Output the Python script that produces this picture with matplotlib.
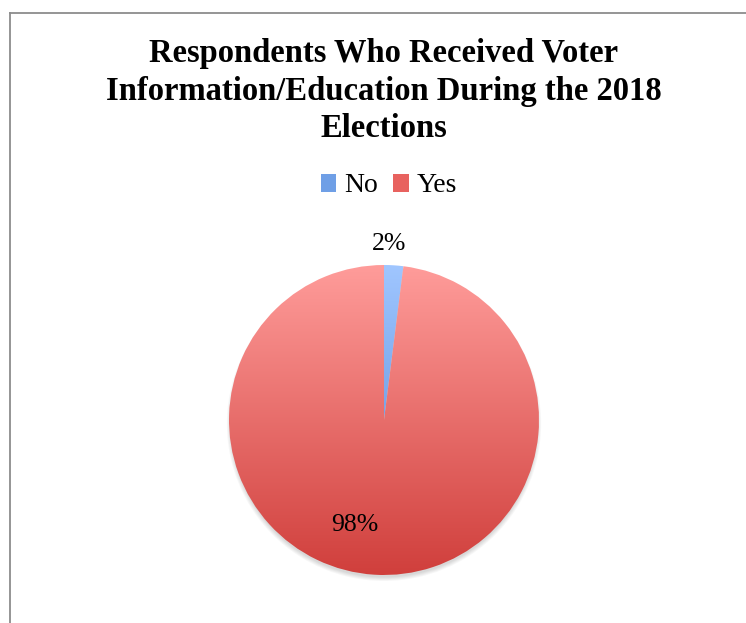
import numpy as np
import matplotlib
matplotlib.use('Agg')
import matplotlib.pyplot as plt
from matplotlib.colors import LinearSegmentedColormap
from matplotlib.patches import Patch, Circle
from matplotlib.lines import Line2D

labels = ['No', 'Yes']
values = [2, 98]
# light (top) -> dark (bottom) fill for each slice
top_colors = ['#a0c6ff', '#ff9c9a']
bottom_colors = ['#4a80d2', '#d03f3c']
mid_colors = ['#6f9fe6', '#e8625f']

title = 'Respondents Who Received Voter\nInformation/Education During the 2018\nElections'

plt.rcParams['font.family'] = ['Liberation Serif', 'DejaVu Serif']

W, H = 746, 623
fig = plt.figure(figsize=(W / 100, H / 100), dpi=100)

# pie placed with centre at (384, 420) px, radius 155 px
cx, cy, r_px = 384, 420, 155
box = 400
ax = fig.add_axes([(cx - box / 2) / W, (H - cy - box / 2) / H, box / W, box / H])
lim = box / 2 / r_px
ax.set_aspect('equal')
ax.axis('off')

# soft drop shadow under the pie
for k in range(5):
    ax.add_patch(Circle((0.0, -0.025), 0.99 + 0.006 * k, facecolor='black',
                        edgecolor='none', alpha=0.03, zorder=0))

wedges, _ = ax.pie(values, startangle=90, counterclock=False, radius=1.0,
                   wedgeprops=dict(facecolor='none', edgecolor='none'))

grad = np.linspace(0, 1, 256).reshape(-1, 1)
for w, c0, c1 in zip(wedges, top_colors, bottom_colors):
    cmap = LinearSegmentedColormap.from_list('g', [c0, c1])
    im = ax.imshow(grad, cmap=cmap, extent=(-1, 1, -1, 1), origin='upper',
                   aspect='auto', zorder=1)
    im.set_clip_path(w)

ax.set_xlim(-lim, lim)
ax.set_ylim(-lim, lim)

# percentage labels
ax.text(0.03, 1.135, '%d%%' % values[0], ha='center', va='center', fontsize=18.5)
ax.text(-0.19, -0.68, '%d%%' % values[1], ha='center', va='center', fontsize=18.5)

fig.text(cx / W, 1 - 38 / H, title, ha='center', va='top', fontsize=23.5,
         fontweight='bold', linespacing=1.28)

handles = [Patch(facecolor=c, edgecolor='none') for c in mid_colors]
fig.legend(handles, labels, loc='center', bbox_to_anchor=(389 / W, 1 - 186 / H),
           ncol=2, frameon=False, fontsize=20, handlelength=0.55,
           handleheight=0.6, handletextpad=0.3, columnspacing=0.55)

# chart frame (top and left edges visible)
fx, fy = 9.5 / W, 1 - 13 / H
fig.add_artist(Line2D([fx, 1], [fy, fy], color='#8c8c8c', lw=1.3))
fig.add_artist(Line2D([fx, fx], [0, fy], color='#8c8c8c', lw=1.3))

fig.savefig('out.png', dpi=100)
